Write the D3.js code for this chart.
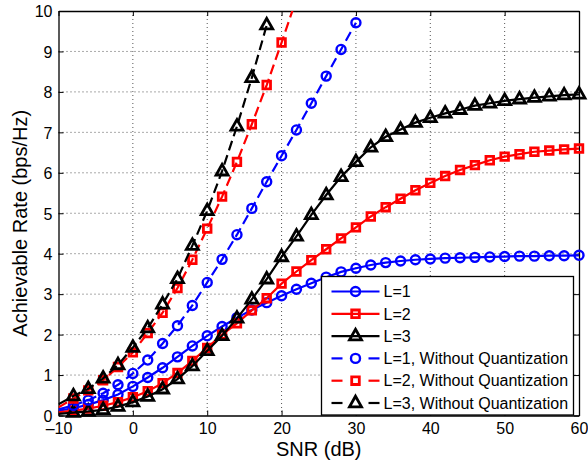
<!DOCTYPE html>
<html>
<head>
<meta charset="utf-8">
<script src="https://cdn.jsdelivr.net/npm/d3@7"></script>
<style>
  html, body { margin: 0; padding: 0; background: #fff; }
  #chart { width: 588px; height: 461px; }
  text { font-family: "Liberation Sans", Arial, sans-serif; fill: #000; }
</style>
</head>
<body>
<div id="chart"></div>
<script>
// -----------------------------
// DATA
// -----------------------------
const snr = [-10, -8, -6, -4, -2, 0, 2, 4, 6, 8, 10, 12, 14, 16, 18, 20, 22, 24, 26, 28,
             30, 32, 34, 36, 38, 40, 42, 44, 46, 48, 50, 52, 54, 56, 58, 60];

const rateL1 = [0.12, 0.18, 0.27, 0.38, 0.52, 0.72, 0.94, 1.18, 1.45, 1.72, 1.97, 2.2, 2.42, 2.61, 2.79,
                2.96, 3.12, 3.27, 3.42, 3.55, 3.64, 3.72, 3.78, 3.82, 3.85, 3.87, 3.89, 3.9, 3.91, 3.92,
                3.93, 3.94, 3.94, 3.95, 3.95, 3.96];
const rateL2 = [0.08, 0.12, 0.17, 0.24, 0.33, 0.45, 0.6, 0.8, 1.05, 1.35, 1.67, 2.0, 2.28, 2.6, 2.9,
                3.26, 3.56, 3.84, 4.11, 4.38, 4.65, 4.92, 5.15, 5.36, 5.57, 5.75, 5.92, 6.07, 6.19, 6.31,
                6.4, 6.46, 6.52, 6.55, 6.58, 6.6];
const rateL3 = [0.04, 0.07, 0.1, 0.14, 0.22, 0.33, 0.47, 0.65, 0.9, 1.22, 1.6, 1.97, 2.4, 2.87, 3.37,
                3.92, 4.43, 4.96, 5.45, 5.9, 6.27, 6.63, 6.89, 7.07, 7.24, 7.36, 7.47, 7.56, 7.66, 7.72,
                7.78, 7.82, 7.86, 7.89, 7.92, 7.94];

// without quantization (series stop where they leave the axes)
const rateL1NoQ = [0.15, 0.25, 0.38, 0.55, 0.76, 1.04, 1.37, 1.78, 2.22, 2.72, 3.29, 3.86, 4.47, 5.12,
                   5.78, 6.42, 7.06, 7.72, 8.39, 9.05, 9.71];
const rateL2NoQ = [0.2, 0.42, 0.62, 0.87, 1.2, 1.56, 2.04, 2.54, 3.15, 3.85, 4.62, 5.41, 6.27, 7.2,
                   8.17, 9.22, 10.3];
const rateL3NoQ = [0.28, 0.48, 0.66, 0.92, 1.25, 1.68, 2.16, 2.75, 3.38, 4.2, 5.06, 6.04, 7.15, 8.35, 9.65];

const xTicks = [-10, 0, 10, 20, 30, 40, 50, 60];
const yTicks = [0, 1, 2, 3, 4, 5, 6, 7, 8, 9, 10];

const seriesNames = ["L=1", "L=2", "L=3",
                     "L=1, Without Quantization", "L=2, Without Quantization", "L=3, Without Quantization"];

window.addEventListener("load", function () {

    const width = 588, height = 461;
    const margin = { top: 11, right: 9, bottom: 45.5, left: 58.5 };
    const plotWidth = width - margin.left - margin.right;
    const plotHeight = height - margin.top - margin.bottom;

    const svg = d3.select("#chart").append("svg")
        .attr("width", width)
        .attr("height", height);

    const g = svg.append("g")
        .attr("transform", `translate(${margin.left},${margin.top})`);

    const x = d3.scaleLinear().domain([-10, 60]).range([0, plotWidth]);
    const y = d3.scaleLinear().domain([0, 10]).range([plotHeight, 0]);

    // -----------------------------
    // GRID (dotted, matlab style)
    // -----------------------------
    const grid = g.append("g").attr("class", "grid");
    grid.selectAll(".gx")
        .data(xTicks.slice(1, -1))
        .enter().append("line")
        .attr("x1", d => x(d)).attr("x2", d => x(d))
        .attr("y1", 0).attr("y2", plotHeight)
        .attr("stroke", "#555").attr("stroke-width", 1)
        .attr("stroke-dasharray", "1,3");
    grid.selectAll(".gy")
        .data(yTicks.slice(1, -1))
        .enter().append("line")
        .attr("x1", 0).attr("x2", plotWidth)
        .attr("y1", d => y(d)).attr("y2", d => y(d))
        .attr("stroke", "#555").attr("stroke-width", 1)
        .attr("stroke-dasharray", "1,3");

    // -----------------------------
    // AXES (box, inward ticks)
    // -----------------------------
    const axisBottom = g.append("g")
        .attr("transform", `translate(0,${plotHeight})`)
        .call(d3.axisBottom(x).tickValues(xTicks).tickSizeInner(-5).tickSizeOuter(0)
            .tickFormat(d => d < 0 ? "\u2013" + Math.abs(d) : d));
    axisBottom.selectAll("text").attr("y", 18.5).attr("dy", 0)
        .style("font-size", "16px");

    const axisLeft = g.append("g")
        .call(d3.axisLeft(y).tickValues(yTicks).tickSizeInner(-5).tickSizeOuter(0));
    axisLeft.selectAll("text").attr("x", -6).attr("dy", "0.36em")
        .style("font-size", "16px");

    g.append("g")
        .call(d3.axisTop(x).tickValues(xTicks).tickSizeInner(-5).tickSizeOuter(0).tickFormat(""));
    g.append("g")
        .attr("transform", `translate(${plotWidth},0)`)
        .call(d3.axisRight(y).tickValues(yTicks).tickSizeInner(-5).tickSizeOuter(0).tickFormat(""));

    g.selectAll(".domain").attr("stroke", "#000").attr("stroke-width", 1.3);
    g.selectAll(".tick line").attr("stroke", "#000").attr("stroke-width", 1);
    g.selectAll(".tick text").attr("fill", "#000")
        .style("font-family", "'Liberation Sans', Arial, sans-serif");

    // axis labels
    svg.append("text")
        .attr("x", margin.left + plotWidth / 2)
        .attr("y", 456)
        .attr("text-anchor", "middle")
        .style("font-size", "20px")
        .text("SNR (dB)");

    svg.append("text")
        .attr("transform", `translate(27,${margin.top + plotHeight / 2 + 10}) rotate(-90)`)
        .attr("text-anchor", "middle")
        .style("font-size", "20px")
        .text("Achievable Rate (bps/Hz)");

    // -----------------------------
    // SERIES
    // -----------------------------
    const zip = (vals) => vals.map((v, i) => ({ snr: snr[i], rate: v }));
    const series = [
        { name: seriesNames[0], data: zip(rateL1), color: "#0000ff", marker: "circle", dash: null },
        { name: seriesNames[1], data: zip(rateL2), color: "#ff0000", marker: "square", dash: null },
        { name: seriesNames[2], data: zip(rateL3), color: "#000000", marker: "triangle", dash: null },
        { name: seriesNames[3], data: zip(rateL1NoQ), color: "#0000ff", marker: "circle", dash: "10,5" },
        { name: seriesNames[4], data: zip(rateL2NoQ), color: "#ff0000", marker: "square", dash: "10,5" },
        { name: seriesNames[5], data: zip(rateL3NoQ), color: "#000000", marker: "triangle", dash: "10,5" }
    ];

    svg.append("defs").append("clipPath").attr("id", "plotClip")
        .append("rect").attr("width", plotWidth).attr("height", plotHeight);

    const line = d3.line()
        .x(d => x(d.snr))
        .y(d => y(d.rate));

    function markerPath(type) {
        if (type === "circle") return d3.symbol(d3.symbolCircle, 64)();
        if (type === "square") return "M-3.8,-3.8H3.8V3.8H-3.8Z";
        return "M0,-6.8L6,3.8H-6Z";
    }

    series.forEach(s => {
        const sg = g.append("g").attr("class", "series");

        sg.append("path")
            .datum(s.data)
            .attr("clip-path", "url(#plotClip)")
            .attr("fill", "none")
            .attr("stroke", s.color)
            .attr("stroke-width", 2.2)
            .attr("stroke-dasharray", s.dash)
            .attr("d", line);

        sg.selectAll(".mk")
            .data(s.data.filter(d => d.snr > -10 && d.rate <= 10))
            .enter().append("path")
            .attr("class", "mk")
            .attr("transform", d => `translate(${x(d.snr)},${y(d.rate)})`)
            .attr("d", markerPath(s.marker))
            .attr("fill", "none")
            .attr("stroke", s.color)
            .attr("stroke-width", s.marker === "circle" ? 2.4 : 2.8);
    });

    // -----------------------------
    // LEGEND
    // -----------------------------
    const legend = svg.append("g").attr("transform", "translate(321.5,276.5)");
    legend.append("rect")
        .attr("width", 252).attr("height", 138.5)
        .attr("fill", "#fff").attr("stroke", "#000").attr("stroke-width", 1.3);

    series.forEach((s, i) => {
        const row = legend.append("g").attr("transform", `translate(0,${15 + i * 22.3})`);
        if (s.dash) {
            row.append("line").attr("x1", 10).attr("x2", 21).attr("y1", 0).attr("y2", 0)
                .attr("stroke", s.color).attr("stroke-width", 2.2);
            row.append("line").attr("x1", 47).attr("x2", 58).attr("y1", 0).attr("y2", 0)
                .attr("stroke", s.color).attr("stroke-width", 2.2);
        } else {
            row.append("line").attr("x1", 10).attr("x2", 58).attr("y1", 0).attr("y2", 0)
                .attr("stroke", s.color).attr("stroke-width", 2.2);
        }
        row.append("path")
            .attr("transform", "translate(34,0)")
            .attr("d", markerPath(s.marker))
            .attr("fill", "none")
            .attr("stroke", s.color)
            .attr("stroke-width", s.marker === "circle" ? 2.4 : 2.8);
        row.append("text")
            .attr("x", 62).attr("dy", "0.36em")
            .style("font-size", "16px")
            .text(s.name);
    });

});
</script>
</body>
</html>
